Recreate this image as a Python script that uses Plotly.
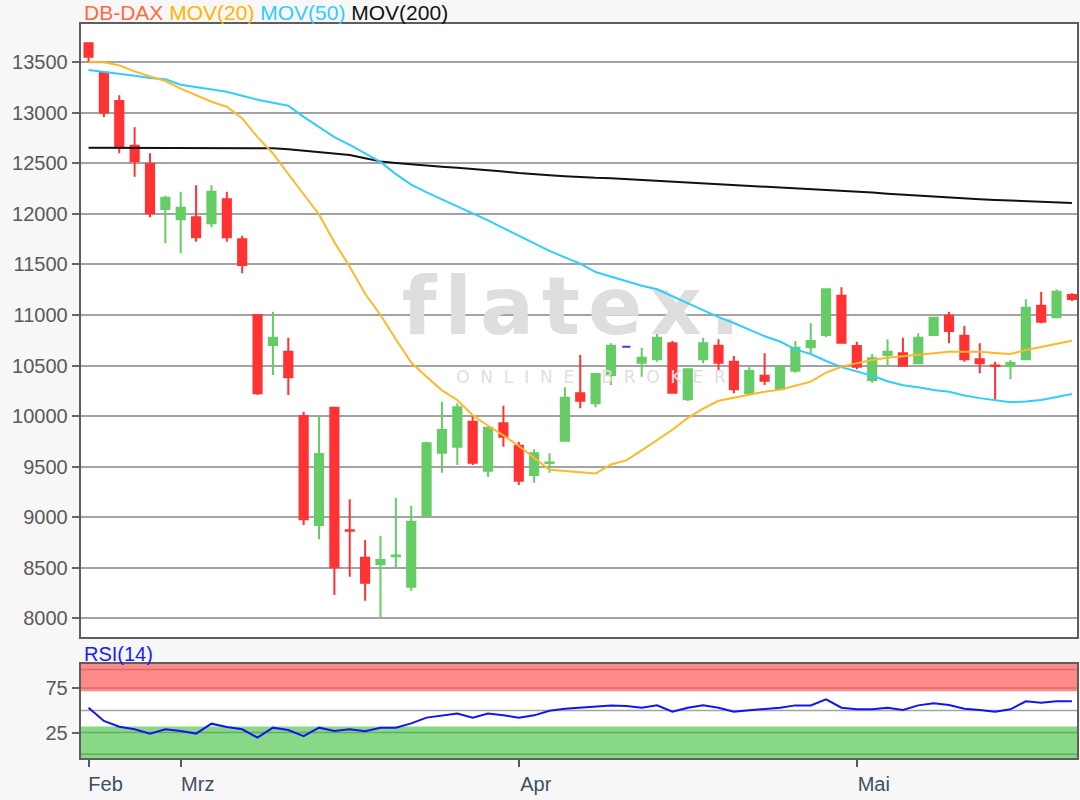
import plotly.graph_objects as go
import pandas as pd

# ---------------- data ----------------
dates = pd.bdate_range("2020-02-21", "2020-05-21")  # 65 weekdays

opens = [13688, 13397, 13117, 12675, 12494, 12049, 11947, 11967, 11907, 12145,
         11749, 11000, 10704, 10637, 10001, 8923, 10083, 8870, 8599, 8534,
         8615, 8313, 9022, 9638, 9697, 9945, 9460, 9929, 9707, 9418,
         9537, 9757, 10226, 10127, 10407, 10687, 10528, 10562, 10720, 10166,
         10562, 10697, 10538, 10226, 10400, 10265, 10449, 10681, 10802, 11191,
         10694, 10357, 10605, 10621, 10522, 10802, 10993, 10795, 10562, 10500,
         10495, 10562, 11092, 10978, 11198]
highs = [13690, 13400, 13174, 12857, 12600, 12180, 12220, 12283, 12283, 12220,
         11785, 11005, 11033, 10776, 10044, 10001, 10085, 9177, 8775, 8817,
         9193, 9111, 9747, 10143, 10127, 10001, 9885, 10103, 9747, 9672,
         9632, 10285, 10605, 10420, 10720, 10687, 10677, 10835, 10743, 10463,
         10776, 10760, 10595, 10483, 10621, 10506, 10743, 10918, 11254, 11274,
         10736, 10614, 10760, 10776, 10819, 10974, 11033, 10894, 10720, 10538,
         10555, 11156, 11231, 11254, 11215]
lows = [13500, 12956, 12600, 12368, 11967, 11710, 11611, 11725, 11868, 11725,
        11413, 10209, 10407, 10209, 8923, 8781, 8230, 8411, 8174, 8000,
        8504, 8273, 9022, 9440, 9516, 9516, 9401, 9697, 9319, 9341,
        9440, 9757, 10077, 10087, 10308, 10687, 10390, 10538, 10232, 10150,
        10522, 10446, 10226, 10226, 10308, 10265, 10430, 10621, 10780, 10726,
        10463, 10331, 10496, 10499, 10522, 10802, 10720, 10538, 10424, 10160,
        10364, 10562, 10918, 10978, 11139]
closes = [13555, 13001, 12659, 12524, 12006, 12161, 12062, 11769, 12220, 11769,
          11495, 10226, 10776, 10384, 8979, 9625, 8504, 8865, 8352, 8577,
          8622, 8956, 9731, 9863, 10087, 9539, 9885, 9796, 9361, 9632,
          9541, 10182, 10153, 10417, 10697, 10687, 10578, 10776, 10232, 10463,
          10720, 10528, 10265, 10446, 10350, 10489, 10677, 10743, 11254, 10726,
          10489, 10572, 10637, 10499, 10776, 10974, 10842, 10562, 10522, 10495,
          10525, 11072, 10934, 11231, 11159]

mov20 = [13500, 13500, 13470, 13410, 13360, 13315, 13240, 13175, 13110, 13061,
         12945, 12760, 12600, 12395, 12195, 11995, 11720, 11478, 11210, 11000,
         10760, 10530, 10390, 10255, 10160, 10010, 9905, 9810, 9705, 9583,
         9470, 9457, 9443, 9432, 9522, 9562, 9661, 9761, 9865, 9982,
         10075, 10152, 10185, 10212, 10242, 10262, 10300, 10341, 10430, 10488,
         10524, 10555, 10578, 10594, 10610, 10625, 10637, 10637, 10637, 10625,
         10615, 10655, 10685, 10710, 10745]
mov50 = [13424, 13407, 13385, 13367, 13345, 13333, 13278, 13255, 13232, 13209,
         13170, 13130, 13100, 13070, 12960, 12860, 12760, 12684, 12600, 12515,
         12394, 12290, 12214, 12145, 12078, 12010, 11936, 11860, 11785, 11710,
         11635, 11571, 11508, 11425, 11379, 11340, 11290, 11255, 11185, 11116,
         11050, 10980, 10921, 10858, 10790, 10738, 10660, 10614, 10545, 10485,
         10440, 10400, 10345, 10305, 10285, 10258, 10240, 10205, 10178, 10155,
         10137, 10145, 10160, 10190, 10219]
mov200 = [12655, 12655, 12655, 12655, 12655, 12655, 12655, 12655, 12655, 12655,
          12655, 12655, 12650, 12640, 12625, 12610, 12598, 12583, 12550, 12520,
          12505, 12490, 12478, 12467, 12457, 12446, 12435, 12420, 12405, 12392,
          12383, 12374, 12362, 12357, 12352, 12344, 12336, 12328, 12320, 12312,
          12304, 12296, 12288, 12280, 12272, 12264, 12256, 12248, 12240, 12232,
          12222, 12212, 12200, 12190, 12178, 12168, 12160, 12152, 12145, 12138,
          12132, 12125, 12119, 12113, 12109]
rsi = [53.1, 38.5, 32.3, 29.4, 24.7, 29.4, 27.5, 24.7, 35.6, 31.9,
       29.4, 20.3, 31.2, 28.6, 22.0, 31.2, 27.5, 29.4, 27.2, 31.2,
       31.2, 35.9, 42.2, 44.7, 46.6, 42.2, 46.6, 44.7, 42.2, 44.7,
       49.7, 52.0, 53.4, 54.9, 55.6, 54.9, 53.1, 55.6, 48.7, 53.1,
       55.6, 53.1, 48.7, 50.2, 51.3, 53.1, 55.6, 55.6, 62.2, 53.1,
       51.3, 51.3, 53.1, 50.6, 55.6, 57.8, 56.0, 52.0, 50.6, 48.7,
       51.3, 60.0, 58.5, 60.0, 60.0]

month_names = {2: "Feb", 3: "Mrz", 4: "Apr", 5: "Mai"}
price_ticks = [8000, 8500, 9000, 9500, 10000, 10500, 11000, 11500, 12000, 12500, 13000, 13500]
rsi_ticks = [25, 75]

# ---------------- styles ----------------
GREEN = "#66cc66"
RED = "#ff3333"
PURPLE = "#6a2cd0"
FONT = "Liberation Sans, Arial, sans-serif"
WM_FONT = "DejaVu Sans"
W, H = 1080, 800
PL, PR = 80.7, 1077
MAIN_T, MAIN_B = 24, 637
RSI_T, RSI_B = 664, 758

x = list(range(len(dates)))
assert all(len(a) == len(x) for a in [opens, highs, lows, closes, mov20, mov50, mov200, rsi])

fig = go.Figure()

# watermark (drawn first so it sits under everything)
HS = "\u200a"
NB = "\u00a0"
wm_big = HS.join("flatex.")
wm_small = (NB * 2).join("ONLINE") + NB * 5 + (NB * 2).join("BROKER")
fig.add_trace(go.Scatter(x=[31.4], y=[11010], mode="text", text=[wm_big],
                         textfont=dict(family=WM_FONT, size=80, color="#dedede", weight="bold"),
                         hoverinfo="skip", showlegend=False))
fig.add_trace(go.Scatter(x=[32.7], y=[10370], mode="text", text=[wm_small],
                         textfont=dict(family=WM_FONT, size=17, color="#e0e0e0"),
                         hoverinfo="skip", showlegend=False))

# candles, split by direction
groups = [
    (GREEN, lambda o, c: c > o),
    (RED, lambda o, c: c < o),
    (PURPLE, lambda o, c: c == o),
]
for color, cond in groups:
    idx = [i for i in x if cond(opens[i], closes[i])]
    if not idx:
        continue
    fig.add_trace(go.Candlestick(
        x=idx,
        open=[opens[i] for i in idx], high=[highs[i] for i in idx],
        low=[lows[i] for i in idx], close=[closes[i] for i in idx],
        increasing=dict(line=dict(color=color, width=2), fillcolor=color),
        decreasing=dict(line=dict(color=color, width=2), fillcolor=color),
        whiskerwidth=0, showlegend=False, xaxis="x", yaxis="y"))

# moving averages
for vals, color in [(mov200, "#111111"), (mov50, "#33ccff"), (mov20, "#ffb829")]:
    fig.add_trace(go.Scatter(x=x, y=vals, mode="lines", line=dict(color=color, width=2),
                             showlegend=False, hoverinfo="skip", xaxis="x", yaxis="y"))

# RSI
fig.add_trace(go.Scatter(x=x, y=rsi, mode="lines", line=dict(color="#1414f0", width=2),
                         showlegend=False, xaxis="x2", yaxis="y2"))

# month ticks at the first weekday of each month in the data
tickvals, ticktext = [], []
prev = None
for i, d in enumerate(dates):
    if d.month != prev:
        tickvals.append(i)
        ticktext.append(month_names[d.month])
        prev = d.month

xd = [PL / W, PR / W]
xr = [-0.51, 64.33]
frame = dict(showline=True, mirror=True, linecolor="#5e5e5e", linewidth=2, zeroline=False)

fig.update_layout(
    width=W, height=H,
    margin=dict(l=0, r=0, t=0, b=0),
    paper_bgcolor="#f7f7f7", plot_bgcolor="#ffffff",
    showlegend=False, boxgap=0.24,
    font=dict(family=FONT, size=20, color="#555555"),
    xaxis=dict(domain=xd, range=xr, anchor="y", showticklabels=False, ticks="",
               showgrid=False, rangeslider=dict(visible=False), **frame),
    yaxis=dict(domain=[1 - MAIN_B / H, 1 - MAIN_T / H], range=[7815, 13879],
               tickvals=price_ticks, ticktext=[str(v) for v in price_ticks],
               ticks="outside", ticklen=7, tickwidth=1.5, tickcolor="#666666",
               tickfont=dict(size=20, color="#5a5a5a"),
               showgrid=True, gridcolor="#a3a3a3", gridwidth=1.6, **frame),
    xaxis2=dict(domain=xd, range=xr, anchor="y2", tickvals=tickvals, ticktext=ticktext,
                ticks="outside", ticklen=7, tickwidth=1.5, tickcolor="#4a5a6a",
                tickfont=dict(size=20, color="#3d5064"), ticklabelshift=17,
                showgrid=False, **frame),
    yaxis2=dict(domain=[1 - RSI_B / H, 1 - RSI_T / H], range=[-2, 100.9],
                tickvals=rsi_ticks, ticktext=[str(v) for v in rsi_ticks],
                ticks="outside", ticklen=7, tickwidth=1.5, tickcolor="#666666",
                tickfont=dict(size=20, color="#5a5a5a"), showgrid=False, **frame),
)

# RSI bands
shapes = [
    dict(type="rect", xref="x2 domain", yref="y2", x0=0, x1=1, y0=71, y1=100.9,
         fillcolor="#ff8a8a", line=dict(width=0), layer="below"),
    dict(type="rect", xref="x2 domain", yref="y2", x0=0, x1=1, y0=-2, y1=32.5,
         fillcolor="#88d888", line=dict(width=0), layer="below"),
]
for yv, col in [(95, "#d96b6b"), (74.5, "#d96b6b"), (26, "#5fae5f"), (2, "#5fae5f"), (50, "#a3a3a3")]:
    shapes.append(dict(type="line", xref="x2 domain", yref="y2", x0=0, x1=1, y0=yv, y1=yv,
                       line=dict(color=col, width=1.5), layer="below"))
fig.update_layout(shapes=shapes)

legend_html = ("<span style='color:#ff6a40'>DB-DAX</span> "
               "<span style='color:#ffb400'>MOV(20)</span> "
               "<span style='color:#33ccff'>MOV(50)</span> "
               "<span style='color:#111111'>MOV(200)</span>")
fig.add_annotation(xref="paper", yref="paper", x=82 / W, y=1 - 13 / H, xanchor="left",
                   yanchor="middle", text=legend_html, showarrow=False,
                   font=dict(family=FONT, size=21))
fig.add_annotation(xref="paper", yref="paper", x=82 / W, y=1 - 654 / H, xanchor="left",
                   yanchor="middle", text="RSI(14)", showarrow=False,
                   font=dict(family=FONT, size=20, color="#1a1aff"))

fig.write_html(
    "out.html",
    config={"displayModeBar": False},
    post_script="document.body.style.margin='0';document.body.style.background='#f7f7f7';",
)
